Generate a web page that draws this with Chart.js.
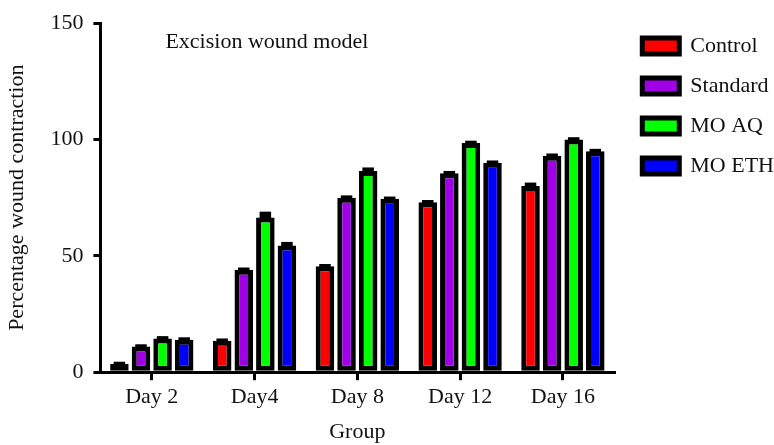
<!DOCTYPE html>
<html>
<head>
<meta charset="utf-8">
<script src="https://cdn.jsdelivr.net/npm/chart.js@4.4.1/dist/chart.umd.min.js"></script>
<style>
  html, body { margin: 0; padding: 0; background: #fff; }
  #wrap { width: 774px; height: 445px; }
</style>
</head>
<body>
<div id="wrap"><canvas id="woundChart"></canvas></div>
<script>
const groups = ["Day 2", "Day4", "Day 8", "Day 12", "Day 16"];
const controlVals = [3.5, 13.5, 45.5, 73, 80];
const standardVals = [11, 44, 75, 85.5, 93];
const moAqVals = [14.5, 66.5, 86.5, 98.5, 100];
const moEthVals = [14, 54.5, 74.5, 90, 95];
const controlErr = [1, 1, 1, 1, 1.5];
const standardErr = [1, 1, 1, 1, 1];
const moAqErr = [1, 2.5, 1.5, 1, 1];
const moEthErr = [1, 1.5, 1, 1, 1];
const yTicks = [0, 50, 100, 150];

const serif = "'Liberation Serif', 'Times New Roman', serif";

// small black caps on top of each bar (SEM)
const errorCaps = {
  id: "errorCaps",
  afterDatasetsDraw(chart) {
    const ctx = chart.ctx;
    const y = chart.scales.y;
    ctx.save();
    ctx.fillStyle = "#000";
    chart.data.datasets.forEach((ds, i) => {
      const meta = chart.getDatasetMeta(i);
      meta.data.forEach((bar, j) => {
        const top = y.getPixelForValue(ds.data[j] + ds.err[j]);
        const w = bar.width * 0.62;
        ctx.fillRect(bar.x - w / 2, top, w, bar.y - top + 2);
      });
    });
    ctx.restore();
  }
};

const innerTitle = {
  id: "innerTitle",
  afterDraw(chart) {
    const ctx = chart.ctx;
    const a = chart.chartArea;
    ctx.save();
    ctx.font = "22px " + serif;
    ctx.fillStyle = "#111";
    ctx.textBaseline = "middle";
    ctx.fillText("Excision wound model", a.left + 65, a.top + 19);
    ctx.restore();
  }
};

// push the legend a bit away from the plot, like the original
const legendGap = {
  id: "legendGap",
  afterLayout(chart) {
    const lg = chart.legend;
    if (!lg) return;
    const w = lg.width;
    lg.left = chart.chartArea.right + 10;
    lg.right = lg.left + w;
  }
};

function makeSet(label, data, err, color) {
  return {
    label, data, err,
    backgroundColor: color,
    borderColor: "#000",
    borderWidth: 5,
    borderSkipped: false,
    barPercentage: 0.86,
    categoryPercentage: 0.84
  };
}

new Chart(document.getElementById("woundChart"), {
  type: "bar",
  data: {
    labels: groups,
    datasets: [
      makeSet("Control", controlVals, controlErr, "#ff0000"),
      makeSet("Standard", standardVals, standardErr, "#a000e6"),
      makeSet("MO AQ", moAqVals, moAqErr, "#00ff00"),
      makeSet("MO ETH", moEthVals, moEthErr, "#0000ff")
    ]
  },
  options: {
    responsive: true,
    maintainAspectRatio: false,
    animation: false,
    layout: { padding: { left: 4, right: 0, top: 17, bottom: 0 } },
    plugins: {
      legend: {
        position: "right",
        align: "start",
        labels: {
          color: "#111",
          font: { family: serif, size: 22 },
          boxWidth: 37,
          boxHeight: 16,
          padding: 18
        }
      },
      tooltip: { enabled: false }
    },
    scales: {
      x: {
        grid: { display: true, drawOnChartArea: false, offset: false, color: "#000", lineWidth: 3, tickLength: 8 },
        border: { display: true, color: "#000", width: 3 },
        ticks: { color: "#111", font: { family: serif, size: 22 }, padding: 4 },
        title: { display: true, text: "Group", color: "#111", font: { family: serif, size: 22 }, padding: { top: 4, bottom: 0 } }
      },
      y: {
        min: 0,
        max: 150,
        afterBuildTicks: axis => { axis.ticks = yTicks.map(v => ({ value: v })); },
        grid: { display: true, drawOnChartArea: false, color: "#000", lineWidth: 3, tickLength: 7 },
        border: { display: true, color: "#000", width: 3 },
        ticks: { color: "#111", font: { family: serif, size: 22 }, padding: 10 },
        title: { display: true, text: "Percentage wound contraction", color: "#111", font: { family: serif, size: 22 }, padding: { top: 0, bottom: 10 } }
      }
    }
  },
  plugins: [errorCaps, innerTitle, legendGap]
});
</script>
</body>
</html>
